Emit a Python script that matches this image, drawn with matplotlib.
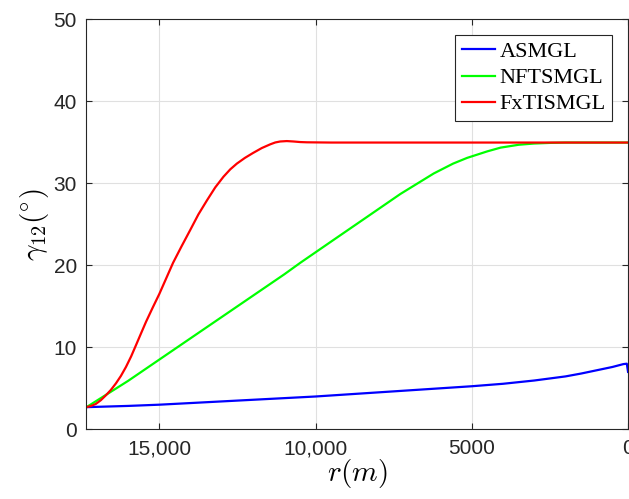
import matplotlib
matplotlib.use("Agg")
import matplotlib.pyplot as plt

plt.rcParams["mathtext.fontset"] = "cm"

# values (r in m, gamma_12 in degrees)
r_asmgl = [17330, 16000, 15000, 14000, 13000, 12000, 11000, 10000, 9000, 8000,
           7000, 6000, 5000, 4000, 3000, 2000, 1500, 1000, 500, 150, 40, 0]
g_asmgl = [2.7, 2.85, 3.0, 3.2, 3.4, 3.6, 3.8, 4.0, 4.25, 4.5,
           4.75, 5.0, 5.25, 5.55, 5.95, 6.45, 6.8, 7.2, 7.6, 7.95, 8.0, 7.0]

r_nft = [17330, 16000, 15000, 14000, 13000, 12000, 11000, 10490, 9423, 8353,
         7285, 6218, 5600, 5150, 4500, 4080, 3500, 3010, 2480, 2000, 0]
g_nft = [2.7, 5.9, 8.5, 11.1, 13.7, 16.3, 18.9, 20.3, 23.1, 25.9,
         28.7, 31.2, 32.4, 33.1, 33.9, 34.35, 34.7, 34.85, 34.93, 34.97, 34.97]

r_fxt = [17330, 17180, 17029, 16870, 16708, 16550, 16388, 16230, 16067, 15900,
         15747, 15590, 15426, 15210, 15000, 14780, 14560, 14290, 14011, 13750,
         13478, 13210, 12947, 12730, 12519, 12260, 12000, 11720, 11452, 11290,
         11132, 10920, 10705, 10490, 10276, 9500, 0]
g_fxt = [2.7, 2.85, 3.1, 3.55, 4.15, 4.8, 5.6, 6.5, 7.6, 8.9,
         10.25, 11.65, 13.1, 14.85, 16.5, 18.4, 20.3, 22.3, 24.3, 26.2,
         27.9, 29.5, 30.8, 31.7, 32.4, 33.1, 33.7, 34.3, 34.75, 34.98,
         35.1, 35.15, 35.1, 35.03, 35.0, 34.97, 34.97]

x_ticks = [15000, 10000, 5000, 0]
x_tick_labels = ["15,000", "10,000", "5000", "0"]
y_ticks = [0, 10, 20, 30, 40, 50]

fig = plt.figure(figsize=(6.29, 4.99), dpi=100)
ax = fig.add_axes([0.1375, 0.1397, 0.861, 0.8216])

ax.plot(r_asmgl, g_asmgl, color="#0000ff", lw=1.6, label="ASMGL")
ax.plot(r_nft, g_nft, color="#00ff00", lw=1.6, label="NFTSMGL")
ax.plot(r_fxt, g_fxt, color="#ff0000", lw=1.6, label="FxTISMGL")

ax.set_xlim(17330, 0)
ax.set_ylim(0, 50)
ax.set_xticks(x_ticks)
ax.set_xticklabels(x_tick_labels)
ax.set_yticks(y_ticks)

ax.grid(True, color="#e0e0e0", lw=0.8)
ax.set_axisbelow(True)
for s in ax.spines.values():
    s.set_color("#262626")
    s.set_linewidth(0.8)
ax.tick_params(direction="in", length=4, width=0.8, color="#262626",
               top=True, right=True, labelsize=15, labelcolor="#262626")
ax.tick_params(axis="x", pad=7)
ax.tick_params(axis="y", pad=7)
for lab in ax.get_xticklabels() + ax.get_yticklabels():
    lab.set_family("Liberation Sans")

ax.set_xlabel(r"$r(m)$", fontsize=21, labelpad=-1)
ax.set_ylabel(r"$\gamma_{12}(^{\circ})$", fontsize=21, labelpad=2)

leg = ax.legend(loc="upper right", bbox_to_anchor=(0.9705, 0.9616),
                prop={"family": "Liberation Serif", "size": 16},
                fancybox=False, framealpha=1, edgecolor="#262626",
                handlelength=1.5, handletextpad=0.2, labelspacing=0.25,
                borderpad=0.3, borderaxespad=0)
leg.get_frame().set_linewidth(0.8)

fig.savefig("out.png", dpi=100)
